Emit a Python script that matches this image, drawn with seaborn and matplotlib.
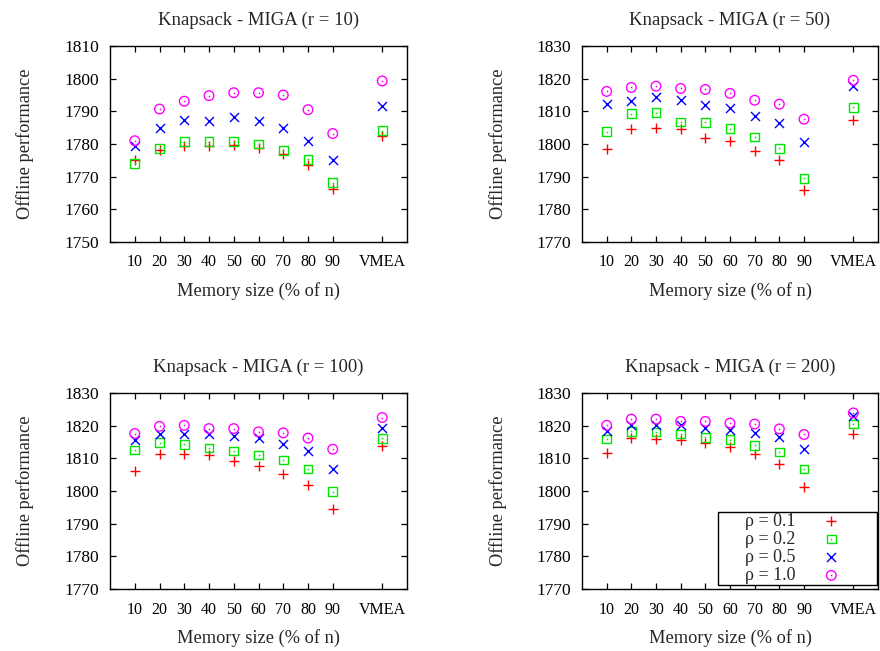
import matplotlib
matplotlib.use("Agg")
import matplotlib.pyplot as plt
from matplotlib.patches import Rectangle
import seaborn as sns
import pandas as pd

# Memory sizes (% of n) plus the VMEA reference run
x_labels = ["10", "20", "30", "40", "50", "60", "70", "80", "90", "VMEA"]
x_pos = [1, 2, 3, 4, 5, 6, 7, 8, 9, 11]

rho_labels = ["ρ = 0.1", "ρ = 0.2", "ρ = 0.5", "ρ = 1.0"]
r_values = [10, 50, 100, 200]

# Offline performance, r = 10
r10_rho01 = [1775.1, 1778.2, 1779.4, 1779.5, 1779.6, 1778.9, 1776.8, 1773.5, 1766.2, 1782.4]
r10_rho02 = [1774.1, 1778.7, 1780.7, 1780.7, 1780.7, 1780.0, 1778.0, 1775.3, 1768.2, 1784.1]
r10_rho05 = [1779.4, 1784.9, 1787.5, 1787.1, 1788.3, 1787.1, 1784.9, 1781.0, 1775.2, 1791.6]
r10_rho10 = [1781.0, 1790.7, 1793.1, 1794.8, 1795.7, 1795.7, 1795.0, 1790.5, 1783.2, 1799.3]

# Offline performance, r = 50
r50_rho01 = [1798.5, 1804.5, 1805.0, 1804.7, 1801.9, 1801.0, 1797.9, 1795.1, 1786.0, 1807.3]
r50_rho02 = [1803.8, 1809.3, 1809.6, 1806.8, 1806.6, 1804.7, 1802.2, 1798.7, 1789.5, 1811.2]
r50_rho05 = [1812.2, 1813.1, 1814.4, 1813.4, 1811.9, 1811.1, 1808.6, 1806.5, 1800.5, 1817.7]
r50_rho10 = [1816.1, 1817.3, 1817.7, 1817.0, 1816.7, 1815.5, 1813.4, 1812.2, 1807.6, 1819.5]

# Offline performance, r = 100
r100_rho01 = [1806.1, 1811.3, 1811.2, 1810.9, 1809.1, 1807.6, 1805.2, 1801.8, 1794.4, 1813.9]
r100_rho02 = [1812.5, 1814.8, 1814.3, 1813.2, 1812.3, 1811.0, 1809.5, 1806.7, 1799.8, 1816.1]
r100_rho05 = [1815.6, 1817.6, 1817.6, 1817.4, 1816.8, 1816.1, 1814.5, 1812.3, 1806.7, 1819.4]
r100_rho10 = [1817.6, 1819.8, 1820.1, 1819.1, 1819.1, 1818.1, 1817.8, 1816.2, 1812.8, 1822.5]

# Offline performance, r = 200
r200_rho01 = [1811.6, 1816.2, 1816.0, 1815.6, 1814.7, 1813.5, 1811.4, 1808.4, 1801.2, 1817.4]
r200_rho02 = [1815.9, 1818.3, 1818.0, 1817.4, 1816.4, 1815.7, 1814.0, 1811.9, 1806.8, 1820.5]
r200_rho05 = [1818.3, 1820.3, 1820.3, 1820.3, 1819.3, 1818.8, 1817.8, 1816.5, 1812.8, 1822.9]
r200_rho10 = [1820.1, 1822.0, 1822.0, 1821.3, 1821.3, 1820.8, 1820.5, 1819.0, 1817.3, 1823.9]

y_ranges = [(1750, 1810), (1770, 1830), (1770, 1830), (1770, 1830)]

panels = [
    [r10_rho01, r10_rho02, r10_rho05, r10_rho10],
    [r50_rho01, r50_rho02, r50_rho05, r50_rho10],
    [r100_rho01, r100_rho02, r100_rho05, r100_rho10],
    [r200_rho01, r200_rho02, r200_rho05, r200_rho10],
]

sns.set_theme(style="ticks")
plt.rcParams["font.family"] = ["Liberation Serif", "DejaVu Serif"]
plt.rcParams["axes.linewidth"] = 1.0

colors = ["#ff0000", "#00e600", "#0000ff", "#ff00ff"]
markers = ["+", "s", "x", "o"]
sizes = [60, 38, 42, 48]
dotted = [False, True, False, True]

fig = plt.figure(figsize=(8.8, 6.51), dpi=100)
W, H = 880, 651
boxes = [(110, 46, 297, 196), (582, 46, 296, 196),
         (110, 393, 297, 196), (582, 393, 296, 196)]

legend_handles = []
for k, (left, top, w, h) in enumerate(boxes):
    ax = fig.add_axes([left / W, 1 - (top + h) / H, w / W, h / H])
    df = pd.DataFrame({"pos": x_pos})
    for j, lab in enumerate(rho_labels):
        df[lab] = panels[k][j]
    for j, lab in enumerate(rho_labels):
        if markers[j] in ("s", "o"):
            sns.scatterplot(data=df, x="pos", y=lab, marker=markers[j], s=sizes[j],
                            color=colors[j], facecolor="none", edgecolor=colors[j],
                            linewidth=1.0, ax=ax, zorder=3)
        else:
            sns.scatterplot(data=df, x="pos", y=lab, marker=markers[j], s=sizes[j],
                            color=colors[j], linewidth=1.0, ax=ax, zorder=3)
        main = ax.collections[-1]
        if dotted[j]:
            sns.scatterplot(data=df, x="pos", y=lab, marker="o", s=1.5,
                            color=colors[j], linewidth=0, ax=ax, zorder=4)
            handle = (main, ax.collections[-1])
        else:
            handle = main
        if k == 3:
            legend_handles.append(handle)

    ax.set_xlim(0, 12)
    ax.set_ylim(*y_ranges[k])
    ax.set_xticks(x_pos)
    ax.set_xticklabels(x_labels)
    ax.set_yticks(range(y_ranges[k][0], y_ranges[k][1] + 1, 10))
    ax.tick_params(direction="in", top=True, right=True, length=4, width=0.9,
                   colors="black")
    ax.tick_params(axis="x", pad=9, labelsize=11.5)
    ax.tick_params(axis="y", pad=8, labelsize=12.5)
    for sp in ax.spines.values():
        sp.set_visible(True)
        sp.set_color("black")
        sp.set_linewidth(1.0)

    ax.set_title(f"Knapsack - MIGA (r = {r_values[k]})", fontsize=13.5, pad=15.5)
    ax.set_xlabel("Memory size (% of n)", fontsize=13.2)
    ax.set_ylabel("Offline performance", fontsize=13.2)
    ax.xaxis.set_label_coords(0.5, -0.25)
    ax.xaxis.label.set_va("center")
    ax.yaxis.set_label_coords(-0.285, 0.5)
    ax.yaxis.label.set_va("center")

    if k == 3:
        # key box in the lower right corner
        bx0, by0, bw, bh = 0.4595, 0.0204, 0.537, 0.3725
        ax.add_patch(Rectangle((bx0, by0), bw, bh, transform=ax.transAxes,
                               facecolor="white", edgecolor="black",
                               linewidth=1.0, zorder=5))
        leg = ax.legend(legend_handles, rho_labels, loc="center",
                        bbox_to_anchor=(bx0, by0, bw, bh), bbox_transform=ax.transAxes,
                        frameon=False, markerfirst=False, fontsize=13,
                        handlelength=2.1, handletextpad=0.95, labelspacing=0.06,
                        borderpad=0, borderaxespad=0, scatterpoints=1)
        leg.set_zorder(6)

fig.savefig("out.png", dpi=100)
